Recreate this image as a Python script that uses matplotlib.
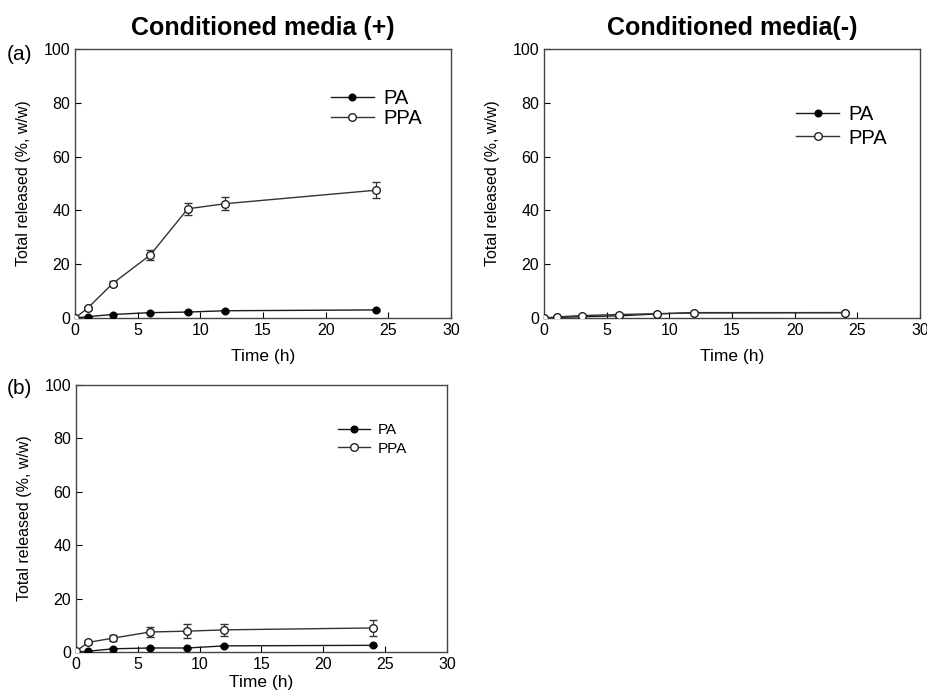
import numpy as np
import matplotlib.pyplot as plt

plt.rcParams['font.family'] = ['Liberation Sans', 'DejaVu Sans']

time_h = [0, 1, 3, 6, 9, 12, 24]

# (a) conditioned media (+)
pa_plus = [0, 0.5, 1.3, 2.0, 2.2, 2.7, 3.0]
pa_plus_err = [0, 0.2, 0.3, 0.3, 0.3, 0.3, 0.4]
ppa_plus = [0, 3.6, 12.8, 23.4, 40.6, 42.5, 47.5]
ppa_plus_err = [0, 0.6, 1.0, 1.8, 2.2, 2.5, 3.0]

# (a) conditioned media (-)
pa_minus = [0, 0.2, 0.5, 0.8, 1.5, 2.0, 2.0]
pa_minus_err = [0, 0.1, 0.1, 0.2, 0.2, 0.2, 0.2]
ppa_minus = [0, 0.4, 0.9, 1.3, 1.6, 1.9, 2.0]
ppa_minus_err = [0, 0.1, 0.2, 0.2, 0.2, 0.2, 0.3]

# (b)
pa_b = [0, 0.3, 1.2, 1.5, 1.5, 2.3, 2.5]
pa_b_err = [0, 0.1, 0.2, 0.2, 0.2, 0.3, 0.3]
ppa_b = [0.3, 3.6, 5.2, 7.5, 7.8, 8.3, 9.0]
ppa_b_err = [0, 0.5, 1.2, 1.8, 2.5, 2.2, 3.0]

W, H = 928, 695
fig = plt.figure(figsize=(W / 100, H / 100), dpi=100)


def make_ax(l, r, t, b):
    return fig.add_axes([l / W, 1 - b / H, (r - l) / W, (b - t) / H])


def draw(ax, pa, pa_err, ppa, ppa_err, leg_size, leg_pos, xpad, lspace):
    ax.errorbar(time_h, pa, yerr=pa_err, color='#1a1a1a', lw=1.0,
                marker='o', ms=4.8, mfc='black', mec='black',
                capsize=3, elinewidth=0.9, label='PA', zorder=3)
    ax.errorbar(time_h, ppa, yerr=ppa_err, color='#333333', lw=1.0,
                marker='o', ms=5.5, mfc='white', mec='#222222', mew=1.0,
                capsize=3, elinewidth=0.9, label='PPA', zorder=4)
    ax.set_xlim(0, 30)
    ax.set_ylim(0, 100)
    ax.set_xticks([0, 5, 10, 15, 20, 25, 30])
    ax.set_yticks([0, 20, 40, 60, 80, 100])
    ax.tick_params(direction='in', length=4, labelsize=11.5, width=0.8)
    for s in ax.spines.values():
        s.set_color('#444444')
        s.set_linewidth(1.0)
    ax.set_xlabel('Time (h)', fontsize=12.5, labelpad=xpad)
    ax.set_ylabel('Total released (%, w/w)', fontsize=11.5, labelpad=9)
    h, l = ax.get_legend_handles_labels()
    h = [x[0] for x in h]
    ax.legend(h, l, loc='upper left', bbox_to_anchor=leg_pos, frameon=False,
              fontsize=leg_size, handlelength=2.1, labelspacing=lspace,
              borderaxespad=0, handletextpad=0.5)


ax1 = make_ax(75, 451, 49, 318)
draw(ax1, pa_plus, pa_plus_err, ppa_plus, ppa_plus_err, 14.5, (0.66, 0.88), 8, 0.05)
ax1.set_title('Conditioned media (+)', fontsize=18, fontweight='bold', pad=10)
fig.text(7 / W, 1 - 54 / H, '(a)', fontsize=15, va='center')

ax2 = make_ax(544, 920, 49, 318)
draw(ax2, pa_minus, pa_minus_err, ppa_minus, ppa_minus_err, 14.5, (0.65, 0.82), 8, 0.2)
ax2.set_title('Conditioned media(-)', fontsize=18, fontweight='bold', pad=10)

ax3 = make_ax(76, 447, 385, 652)
draw(ax3, pa_b, pa_b_err, ppa_b, ppa_b_err, 11, (0.69, 0.88), 2, 0.3)
fig.text(7 / W, 1 - 388 / H, '(b)', fontsize=15, va='center')

fig.savefig('out.png', dpi=100)
